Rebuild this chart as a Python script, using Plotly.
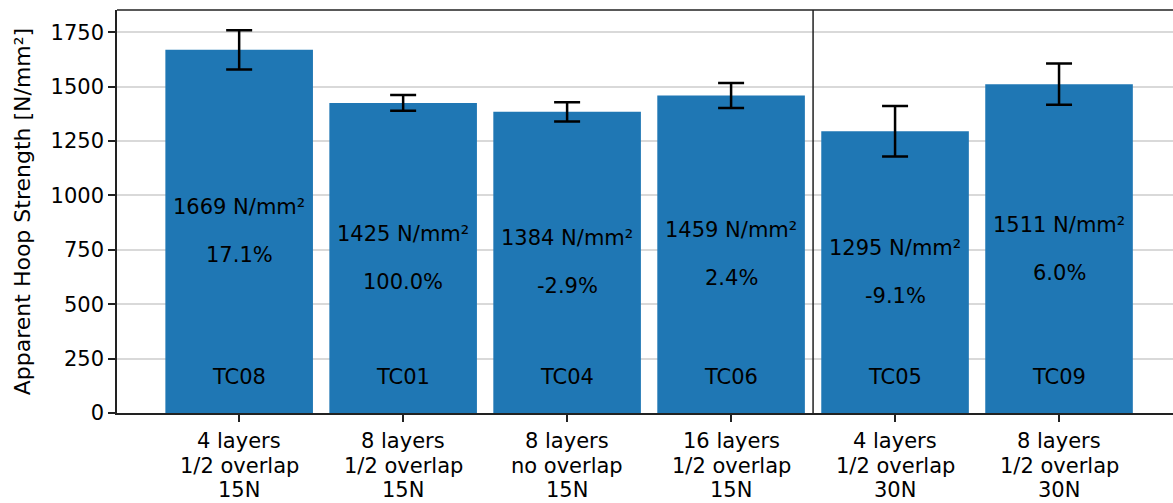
import plotly.graph_objects as go

ids = ["TC08", "TC01", "TC04", "TC06", "TC05", "TC09"]
categories = [
    "4 layers<br>1/2 overlap<br>15N",
    "8 layers<br>1/2 overlap<br>15N",
    "8 layers<br>no overlap<br>15N",
    "16 layers<br>1/2 overlap<br>15N",
    "4 layers<br>1/2 overlap<br>30N",
    "8 layers<br>1/2 overlap<br>30N",
]
strength = [1669, 1425, 1384, 1459, 1295, 1511]
errors = [90, 36, 44, 57, 116, 95]
pct_labels = ["17.1%", "100.0%", "-2.9%", "2.4%", "-9.1%", "6.0%"]

FONT = "DejaVu Sans"
BLUE = "#1f77b4"
FS = 21
xs = list(range(len(ids)))

fig = go.Figure()
fig.add_trace(go.Bar(
    x=xs, y=strength, width=0.9,
    marker=dict(color=BLUE, line=dict(width=0)),
    error_y=dict(type="data", array=errors, visible=True,
                 color="black", thickness=2.5, width=13),
    hoverinfo="skip",
))

tfont = dict(size=FS, color="black", family=FONT)
for i, (tc, v, p) in enumerate(zip(ids, strength, pct_labels)):
    fig.add_annotation(x=i, y=v / 2, text=f"{v} N/mm²", showarrow=False,
                       yshift=24, font=tfont)
    fig.add_annotation(x=i, y=v / 2, text=p, showarrow=False,
                       yshift=-24, font=tfont)
    fig.add_annotation(x=i, y=0, text=tc, showarrow=False, yshift=36,
                       font=tfont)

# multi-line category labels (drawn line by line for matplotlib-like spacing)
for i, cat in enumerate(categories):
    for j, line in enumerate(cat.split("<br>")):
        fig.add_annotation(x=i, xref="x", y=0, yref="paper", text=line,
                           showarrow=False, yanchor="middle",
                           yshift=-28 - 24.5 * j, font=tfont)

# separator between 15N and 30N groups
fig.add_shape(type="line", xref="x", yref="paper", x0=3.5, x1=3.5, y0=0, y1=1,
              line=dict(color="#222222", width=1.5))
# top spine
fig.add_shape(type="line", xref="paper", yref="paper", x0=0, x1=1, y0=1, y1=1,
              line=dict(color="#222222", width=1.5))

fig.update_layout(
    width=1173, height=503,
    margin=dict(l=117, r=0, t=10, b=90, autoexpand=False),
    plot_bgcolor="white", paper_bgcolor="white",
    showlegend=False,
    font=dict(family=FONT, size=FS, color="black"),
    xaxis=dict(
        range=[-0.745, 5.695],
        tickvals=xs, showticklabels=False,
        showline=True, linecolor="#222222", linewidth=1.5,
        ticks="outside", ticklen=7, tickwidth=1.5, tickcolor="#222222",
        showgrid=False, zeroline=False,
    ),
    yaxis=dict(
        range=[0, 1852],
        tickvals=[0, 250, 500, 750, 1000, 1250, 1500, 1750],
        showline=True, linecolor="#222222", linewidth=1.5,
        ticks="outside", ticklen=7, tickwidth=1.5, tickcolor="#222222",
        showgrid=True, gridcolor="#d9d9d9", gridwidth=1.5,
        zeroline=False, automargin=False,
        tickfont=dict(size=FS, family=FONT, color="black"),
        title=dict(text="Apparent Hoop Strength [N/mm²]",
                   font=dict(size=22, family=FONT, color="black"), standoff=14),
    ),
)

fig.write_html(
    "out.html",
    config={"displayModeBar": False},
    post_script="document.body.style.margin='0';document.body.style.overflow='hidden';",
)
